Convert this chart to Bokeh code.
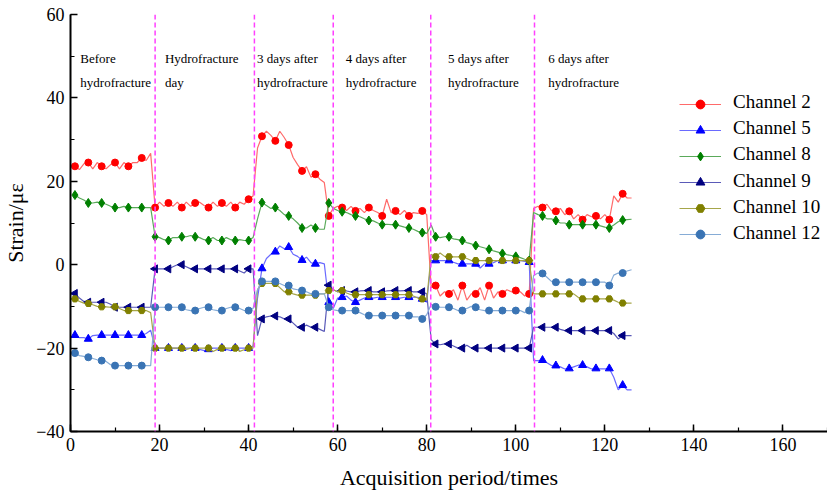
import math
from bokeh.plotting import figure
from bokeh.models import Span, Label, Legend, LegendItem, SingleIntervalTicker, Range1d
from bokeh.embed import file_html
from bokeh.resources import INLINE

periods = list(range(1, 127))

ch2 = [23.6, 22.8, 24.2, 24.5, 23, 24.5, 23.6, 23, 24, 24.5, 23, 24.5, 23.6, 24.5, 24.5, 25.6, 25, 26.7,
       13.7, 15, 14, 14.8, 14, 15, 13.7, 15, 14, 14.8, 15, 14.2, 13.7, 15, 14, 14.8, 14, 15, 13.7, 15, 14.5, 15.7, 16.5,
       28, 30.8, 32, 31, 29.7, 32, 30.5, 28.7, 25.7, 24, 22.5, 23.5, 21, 21.7, 20.5, 19.7, 11.7,
       13.5, 14, 13.7, 13, 14, 12.9, 13.5, 12.5, 13.7, 13, 12.5, 11.7, 15.7, 12.5, 12.9, 12, 13, 11.7, 12.5, 12.3, 12.9, 12,
       -5.5, -5, -7.5, -6.5, -7, -6, -8.5, -5, -8.5, -7, -7, -5.5, -8.5, -5, -8, -6.5, -7, -6, -6.5, -6.2, -6.5, -7.5, -7,
       13.5, 14, 13.7, 14.5, 13, 12.8, 13.5, 12, 12.8, 11, 12, 10.8, 12, 11.5, 11.7, 11, 12, 10.8, 16.5, 15, 17, 16, 16]

ch5 = [-16.9, -17.5, -17.5, -17.8, -17, -16.9, -16.9, -16.9, -16.9, -16.9, -16.9, -16.9, -16.9, -16.9, -16.9, -16.9, -16.5, -15.7,
       -20, -20, -20, -20, -20, -20, -20, -20, -20, -20, -20.3, -20.6, -20.3, -20, -20, -20, -20.3, -20.6, -20, -20, -20, -20, -19.5,
       -8, -0.9, 1.5, 2.5, 3.1, 4.5, 3.8, 4.2, 2.5, 2, 1.1, 1.8, 0.5, 0.2, 0.5, 0.2, -9,
       -10.5, -8, -7.8, -7.5, -8.5, -9, -8.5, -8, -7.8, -8, -7.8, -7.8, -7.8, -7.8, -7.8, -8, -7.8, -7.8, -7.8, -7.8, -8.2, -9,
       1, 1, 1, 1, 1, 0.6, 0.2, 0.2, 0.2, 0.2, 0.2, -0.8, 0.2, 0.2, 0.5, 1, 1, 1, 1, 1, 1, 0.8, 0.6,
       -23, -23, -22.9, -23.5, -24.2, -24.2, -24.5, -25, -24.9, -24.5, -24.1, -24.1, -24.5, -25, -24.9, -25, -25, -24.9, -27, -30, -28.9, -30, -30]

ch8 = [16.7, 16, 15.5, 14.8, 14.8, 15, 14.8, 14.5, 14, 13.7, 13.7, 14, 13.7, 13.7, 13.7, 13.7, 13.7, 13.7,
       6.7, 6.5, 6, 5.8, 6.5, 6.5, 6.7, 6.7, 7, 6.7, 6.5, 6, 5.8, 6.5, 5.8, 5.8, 6.5, 6, 5.8, 6, 5.8, 5.8, 6.5,
       11, 14.9, 14.2, 13.5, 13.7, 13, 12, 11.7, 11, 10, 8.8, 8.8, 9.5, 8.8, 8.5, 8.5, 14.8,
       13.5, 13, 12.7, 12.5, 12, 11.7, 11.5, 11, 10.6, 10.5, 10, 9.6, 9.7, 9.6, 9.6, 9.3, 9, 8.8, 8.5, 8, 7.7, 7.5,
       9.5, 6.7, 6.5, 6.7, 6.7, 6.2, 6, 5.8, 5.3, 5, 4.6, 4.3, 4, 3.7, 3.3, 3, 2.7, 2.4, 2.2, 2, 1.7, 1.3, 1,
       12.5, 12, 11.7, 11, 11, 10.6, 10, 10, 9.6, 9.6, 9.6, 9.6, 9.6, 9.6, 9.6, 9.3, 9, 8.8, 9.5, 10.3, 10.7, 10.8, 10.9]

ch9 = [-6.9, -8, -8.8, -9, -9, -9, -9, -9, -9.5, -10.2, -10.2, -10.2, -10.2, -10.2, -10.2, -10.2, -10.2, -10.2,
       -1, -1, -1, -1, -0.5, 0, 0, -0.5, -1, -1, -1, -1, -1, -1, -1, -1, -1, -1, -1, -1.5, -2, -1, -1,
       -17, -13, -12.5, -12.3, -12.3, -12.5, -13, -13, -14, -15, -15, -14.5, -15, -15, -15.5, -16, -4.9,
       -6, -6.5, -6.2, -6.3, -6.5, -6.5, -6.3, -6.2, -6.2, -6.5, -6.5, -6.5, -6.3, -6.2, -6.2, -6.3, -6.2, -6.2, -6.5, -6.5, -6.5, -7,
       -18, -19, -19.2, -19, -19, -19.5, -20, -20, -19.3, -20, -20, -20, -20, -20, -20, -20, -20, -20, -20, -20, -20, -20, -20,
       -15, -15, -15, -15, -15, -15, -15.5, -15.8, -15.8, -15.8, -15.8, -15.8, -15.8, -15.8, -15.8, -15.8, -15.8, -15.8, -16.5, -17.8, -17, -17, -17]

ch10 = [-8.2, -8.8, -9.2, -9.3, -9.6, -10, -10.1, -10.1, -10.2, -10.1, -10.5, -11, -11, -11, -11, -11, -11, -11.5,
        -20, -20, -20, -20, -20, -20, -20, -20.3, -20, -20, -20, -20, -20, -20.8, -20.3, -20, -20, -20, -20, -20.8, -20.4, -20, -20,
        -6, -4.5, -4.5, -4.5, -4.5, -5.5, -6.5, -6.5, -7, -7.3, -7.3, -7.3, -7.3, -7.3, -7, -7, -6.2,
        -6, -6.5, -6.2, -6.8, -7.2, -7.2, -7.2, -7.2, -7.2, -7.2, -7.2, -7.2, -7.2, -7.2, -7.2, -7.2, -7.2, -7.2, -7.5, -8, -8.2, -8.5,
        2.5, 1.9, 2.8, 2, 1.9, 1.9, 1.9, 1.9, 1.5, 1, 1, 1, 1, 1, 1, 1, 1, 1, 1, 1, 1, 1, 1,
        -7, -7, -7, -7, -7, -7, -7, -7, -7, -7, -7.8, -8.2, -8.2, -8.2, -8.2, -8.2, -8.2, -8.2, -8.5, -9, -9.2, -9.2, -9.2]

ch12 = [-21.2, -21.8, -22, -22.2, -22.5, -22.8, -23, -23.2, -24, -24.2, -24.2, -24.2, -24.2, -24.2, -24.2, -24.2, -24.2, -24.2,
        -10.2, -10.2, -10.2, -10.2, -10.2, -10.2, -10.2, -10.8, -11, -11, -10.5, -10.2, -10.2, -10.8, -11, -11, -10.5, -10.2, -10.2, -10.5, -11, -11, -10.5,
        -6, -4, -4, -4, -4, -4.5, -5, -5, -5.8, -6, -6.2, -6.5, -7, -7, -7, -7, -10.2,
        -10.8, -11, -11, -11, -11, -11, -11.5, -12, -12.2, -12.2, -12.2, -12.2, -12.2, -12.2, -12.2, -12.2, -12.2, -12.2, -12.5, -12.5, -13, -12,
        -9.5, -10.1, -10.2, -10.2, -10.2, -10.5, -11, -11, -10.5, -10, -10.2, -10.8, -11, -11, -11, -11, -11, -11, -11, -11, -11, -11.5, -11,
        -2.6, -2, -2.1, -3, -4, -4.2, -4.2, -4.2, -4.2, -4.2, -4.2, -4.2, -4.2, -4.2, -4.2, -4.2, -4.2, -5, -2.5, -2, -2, -1.5, -1.2]

series_names = ["Channel 2", "Channel 5", "Channel 8", "Channel 9", "Channel 10", "Channel 12"]
series_values = [ch2, ch5, ch8, ch9, ch10, ch12]

stage_bounds = [19, 41.3, 59, 80.9, 104.2]
stage_label_x = [2.2, 21.2, 41.9, 61.8, 84.8, 107.3]
stage_line1 = ["Before", "Hydrofracture", "3 days after", "4 days after", "5 days after", "6 days after"]
stage_line2 = ["hydrofracture", "day", "hydrofracture", "hydrofracture", "hydrofracture", "hydrofracture"]

marker_colors = ["#ff0000", "#0000ff", "#008000", "#000080", "#808000", "#3a74b4"]
line_colors = ["#ff6a6a", "#6a6aff", "#5aaa5a", "#5a5ab8", "#a6a64a", "#86acd6"]
markers = ["circle", "triangle", "diamond", "triangle", "hex", "circle"]
angles = [0, 0, 0, math.pi / 2, 0, 0]
sizes = [7, 8, 9, 8, 7, 7]

SERIF = "Liberation Serif"

p = figure(width=827, height=492, output_backend="svg", toolbar_location=None,
           x_range=Range1d(0, 170), y_range=Range1d(-40, 60),
           min_border_left=60, min_border_right=0, min_border_top=14, min_border_bottom=61)
p.outline_line_color = None
p.xgrid.visible = False
p.ygrid.visible = False
p.background_fill_color = "white"

for ax, tick in ((p.xaxis, 20), (p.yaxis, 20)):
    ax.ticker = SingleIntervalTicker(interval=tick, num_minor_ticks=2)
    ax.axis_line_width = 2
    ax.axis_line_color = "black"
    ax.major_tick_in = 7
    ax.major_tick_out = 0
    ax.minor_tick_in = 4
    ax.minor_tick_out = 0
    ax.major_tick_line_width = 1.5
    ax.minor_tick_line_width = 1.2
    ax.major_label_text_font = SERIF
    ax.major_label_text_font_size = "18px"
    ax.major_label_text_color = "black"
    ax.axis_label_text_font = SERIF
    ax.axis_label_text_font_size = "22px"
    ax.axis_label_text_font_style = "normal"
    ax.axis_label_text_color = "black"

p.xaxis.axis_label = "Acquisition period/times"
p.yaxis.axis_label = "Strain/\u03bc\u03b5"
p.xaxis.major_label_standoff = 6
p.xaxis.axis_label_standoff = 11
p.yaxis.major_label_standoff = 6

for b in stage_bounds:
    p.add_layout(Span(location=b, dimension="height", line_color="#ff40ff",
                      line_dash="5 3", line_width=1.5))

for xl, t1, t2 in zip(stage_label_x, stage_line1, stage_line2):
    p.add_layout(Label(x=xl, y=49.5, text=t1, text_font=SERIF, text_font_size="13px",
                       text_baseline="middle", text_color="black"))
    p.add_layout(Label(x=xl, y=43.6, text=t2, text_font=SERIF, text_font_size="13px",
                       text_baseline="middle", text_color="black"))

# legend: glyph samples from Bokeh's Legend, names as serif text labels beside them
legend_text_x = 148.8
legend_text_y = [39.1, 32.9, 26.6, 20.1, 13.9, 7.7]

items = []
for name, vals, mc, lc, mk, ang, sz in zip(series_names, series_values, marker_colors,
                                            line_colors, markers, angles, sizes):
    lr = p.line(periods, vals, line_color=lc, line_width=1.2)
    sr = p.scatter(periods[::3], vals[::3], marker=mk, angle=ang, size=sz,
                   fill_color=mc, line_color=mc)
    items.append(LegendItem(label=" ", renderers=[lr, sr]))

legend = Legend(items=items, location=(609, 186), label_text_font=SERIF,
                label_text_font_size="20px", label_text_color="black",
                glyph_width=42, glyph_height=22, label_height=22, spacing=4,
                label_standoff=4, padding=4, border_line_color=None,
                background_fill_alpha=0)
p.add_layout(legend)

for name, ly in zip(series_names, legend_text_y):
    p.add_layout(Label(x=legend_text_x, y=ly, text=name, text_font=SERIF,
                       text_font_size="19px", text_baseline="middle", text_color="black"))

open("out.html", "w").write(file_html(p, INLINE))
